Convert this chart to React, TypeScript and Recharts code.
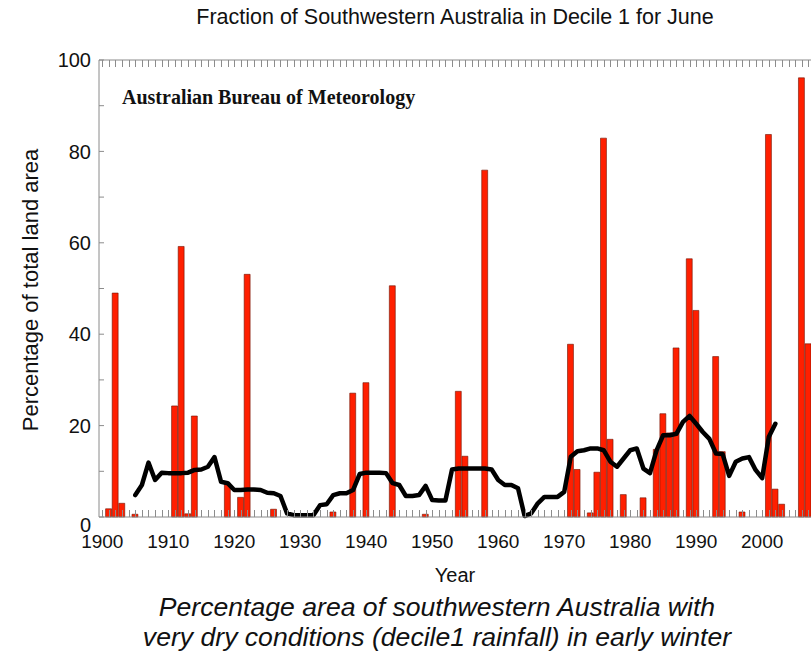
import React from 'react';
import { ComposedChart, Bar, Line, XAxis, YAxis, ReferenceLine } from 'recharts';

const SANS = '"Liberation Sans", Arial, Helvetica, sans-serif';
const SERIF = '"Liberation Serif", "Times New Roman", serif';

// years with a non-zero decile-1 area (others are 0)
const barYears = [
  1901, 1902, 1903, 1905, 1911, 1912, 1913, 1914, 1919, 1921, 1922, 1926, 1935, 1938,
  1940, 1944, 1949, 1954, 1955, 1958, 1971, 1972, 1974, 1975, 1976, 1977, 1979, 1982,
  1984, 1985, 1986, 1987, 1989, 1990, 1993, 1994, 1997, 2001, 2002, 2003, 2006, 2007,
];
const barValues = [
  1.8, 49, 3, 0.6, 24.3, 59.2, 0.7, 22.1, 7.4, 4.3, 53.1, 1.7, 1.1, 27.1,
  29.4, 50.6, 0.6, 27.5, 13.3, 75.9, 37.8, 10.4, 0.9, 9.8, 82.9, 17.0, 4.9, 4.2,
  14.8, 22.6, 18.4, 37.0, 56.5, 45.2, 35.1, 14.3, 1.1, 83.7, 6.1, 2.8, 96.1, 37.9,
];

// running mean, 1905 .. 2002
const avgFirstYear = 1905;
const avgValues = [
  4.8, 7.0, 11.9, 8.1, 9.7, 9.6, 9.6, 9.6, 9.7, 10.3,
  10.4, 11.0, 13.1, 7.7, 7.4, 5.9, 5.9, 6.0, 6.0, 5.9,
  5.3, 5.2, 4.6, 0.8, 0.4, 0.4, 0.4, 0.4, 2.6, 2.8,
  4.8, 5.2, 5.2, 5.9, 9.4, 9.7, 9.7, 9.7, 9.6, 7.4,
  7.0, 4.6, 4.6, 4.8, 6.8, 3.7, 3.6, 3.6, 10.4, 10.6,
  10.6, 10.6, 10.6, 10.6, 10.4, 8.1, 7.0, 7.0, 6.3, 0.2,
  0.8, 3.0, 4.4, 4.4, 4.4, 5.5, 13.2, 14.4, 14.6, 15.0,
  15.0, 14.6, 12.1, 11.0, 12.8, 14.6, 15.0, 10.6, 9.6, 14.6,
  17.9, 17.9, 18.2, 20.8, 22.1, 20.4, 18.6, 17.1, 13.9, 13.8,
  9.0, 12.1, 12.8, 13.1, 10.3, 8.5, 17.5, 20.4,
];

const firstYear = 1900;
const lastYear = 2007;
const yTicks = [0, 10, 20, 30, 40, 50, 60, 70, 80, 90, 100];

const yearTicks: number[] = [];
for (let y = firstYear; y <= lastYear; y++) yearTicks.push(y);

const rows = yearTicks.map((year) => {
  const bi = barYears.indexOf(year);
  const ai = year - avgFirstYear;
  return {
    year,
    pct: bi >= 0 ? barValues[bi] : null,
    avg: ai >= 0 && ai < avgValues.length ? avgValues[ai] : null,
  };
});

const W = 811;
const H = 668;
const MARGIN = { top: 60, right: 0, bottom: 121, left: 0 };
const X_AXIS_H = 30;
const PLOT_H = H - MARGIN.top - MARGIN.bottom - X_AXIS_H;

const TICK_GREY = '#8c8c8c';
const FRAME_GREY = '#8a8a8a';

// year tick: short inward marks on the bottom and the top frame, label every decade
function YearTick(props: any) {
  const { x, y, payload } = props;
  const yr = payload.value;
  const px = Math.round(x) + 0.5;
  const top = y - PLOT_H;
  return (
    <g>
      <line x1={px} x2={px} y1={y} y2={y - 7} stroke={TICK_GREY} strokeWidth={1} />
      <line x1={px} x2={px} y1={top} y2={top + 7} stroke={TICK_GREY} strokeWidth={1} />
      {yr % 10 === 0 && (
        <text x={x} y={y + 31} textAnchor="middle" fontSize={19} fill="#111" fontFamily={SANS}>
          {yr}
        </text>
      )}
    </g>
  );
}

function LeftTick(props: any) {
  const { x, y, payload } = props;
  const v = payload.value;
  return (
    <g>
      <line x1={x} x2={x + 5} y1={y} y2={y} stroke={TICK_GREY} strokeWidth={1} />
      {v % 20 === 0 && (
        <text
          x={x - 8}
          y={v === 0 ? y + 8 : y}
          dy="0.36em"
          textAnchor="end"
          fontSize={20}
          fill="#111"
          fontFamily={SANS}
        >
          {v}
        </text>
      )}
    </g>
  );
}

export default function App() {
  return (
    <div
      style={{
        position: 'absolute',
        left: 0,
        top: 0,
        width: W,
        height: H,
        background: '#fff',
        overflow: 'hidden',
        fontFamily: SANS,
        color: '#111',
      }}
    >
      <div
        style={{
          position: 'absolute',
          left: 0,
          width: 910,
          top: 5,
          textAlign: 'center',
          fontSize: 21.5,
          lineHeight: '24px',
          whiteSpace: 'nowrap',
        }}
      >
        Fraction of Southwestern Australia in Decile 1 for June
      </div>

      <ComposedChart width={W} height={H} data={rows} margin={MARGIN}>
        <XAxis
          dataKey="year"
          type="number"
          domain={[1899.5, 2007.4]}
          allowDataOverflow
          ticks={yearTicks}
          interval={0}
          height={X_AXIS_H}
          tickSize={0}
          tickMargin={0}
          tickLine={false}
          axisLine={{ stroke: FRAME_GREY }}
          tick={<YearTick />}
        />
        <YAxis
          type="number"
          domain={[0, 100]}
          ticks={yTicks}
          interval={0}
          width={99}
          tickSize={0}
          tickMargin={0}
          tickLine={false}
          axisLine={{ stroke: FRAME_GREY }}
          tick={<LeftTick />}
        />
        <ReferenceLine y={100} stroke={FRAME_GREY} strokeWidth={1} />
        <Bar
          dataKey="pct"
          barSize={6.6}
          fill="#ff1f00"
          stroke="#6e1200"
          strokeWidth={0.6}
          isAnimationActive={false}
        />
        <Line
          dataKey="avg"
          type="linear"
          stroke="#000"
          strokeWidth={4.5}
          strokeLinejoin="round"
          strokeLinecap="round"
          dot={false}
          activeDot={false}
          isAnimationActive={false}
        />
      </ComposedChart>

      <div
        style={{
          position: 'absolute',
          left: 122,
          top: 85,
          fontFamily: SERIF,
          fontWeight: 'bold',
          fontSize: 20,
          lineHeight: '24px',
          whiteSpace: 'nowrap',
        }}
      >
        Australian Bureau of Meteorology
      </div>

      <div
        style={{
          position: 'absolute',
          left: 31,
          top: 290,
          transform: 'translate(-50%, -50%) rotate(-90deg)',
          fontSize: 22,
          lineHeight: '26px',
          whiteSpace: 'nowrap',
        }}
      >
        Percentage of total land area
      </div>

      <div
        style={{
          position: 'absolute',
          left: 0,
          width: 910,
          top: 563,
          textAlign: 'center',
          fontSize: 20,
          lineHeight: '24px',
        }}
      >
        Year
      </div>

      <div
        style={{
          position: 'absolute',
          left: 0,
          width: 874,
          top: 592,
          textAlign: 'center',
          fontSize: 26.6,
          fontStyle: 'italic',
          lineHeight: '30px',
          whiteSpace: 'nowrap',
        }}
      >
        Percentage area of southwestern Australia with
        <br />
        very dry conditions (decile1 rainfall) in early winter
      </div>
    </div>
  );
}
